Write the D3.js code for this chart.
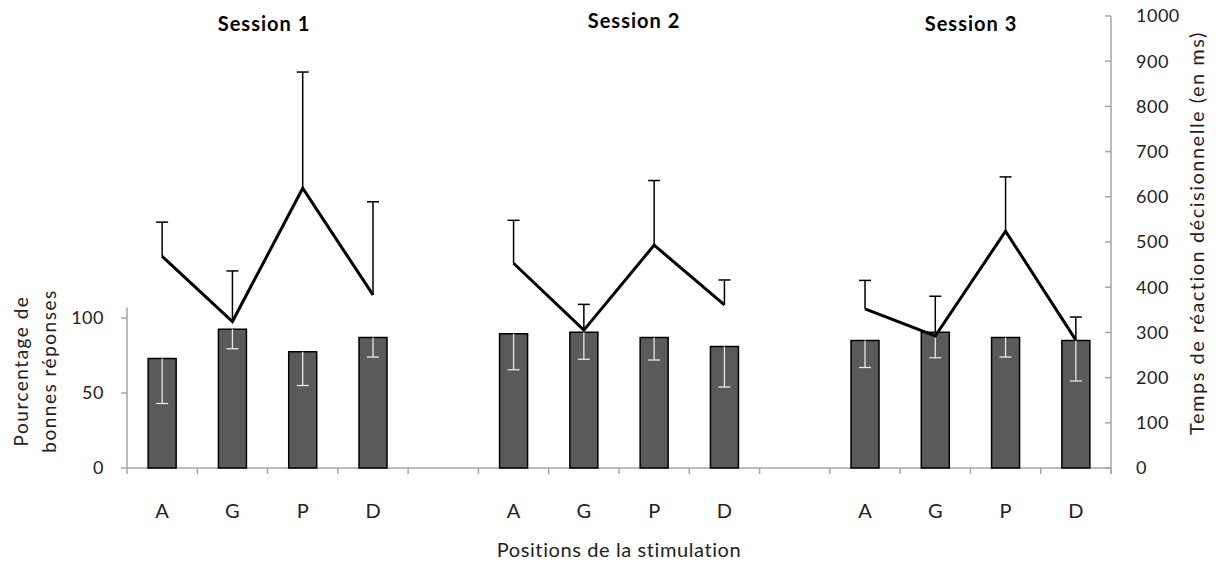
<!DOCTYPE html>
<html>
<head>
<meta charset="utf-8">
<script src="https://cdn.jsdelivr.net/npm/d3@7"></script>
<style>
  body { margin: 0; background: #fff; }
  svg { display: block; font-family: Lato, "Open Sans", sans-serif; }
</style>
</head>
<body>
<svg id="chart"></svg>
<script>
const width = 1216;
const height = 563;

// 14 slots on the x axis: 3 sessions of 4 positions, separated by empty slots
const sessions = ['Session 1', 'Session 2', 'Session 3'];
const positions = ['A', 'G', 'P', 'D'];
const slotIndex = [[0, 1, 2, 3], [5, 6, 7, 8], [10, 11, 12, 13]];

// percentage of correct answers (bars) and their error (downward)
const pctCorrect = [[73, 92.5, 77.5, 87], [89.5, 90.5, 87, 81], [85, 90.5, 87, 85]];
const pctError = [[30, 13, 22.5, 13], [24, 18, 15, 27], [18, 17, 13, 27]];

// decision reaction time in ms (lines) and their error (upward)
const rtMean = [[468, 324, 619, 383], [453, 305, 493, 361], [352, 292, 524, 283]];
const rtError = [[76, 112, 257, 206], [95, 57, 143, 55], [63, 88, 120, 51]];

const leftTicks = [0, 50, 100];
const rightTicks = d3.range(0, 1001, 100);

const svg = d3.select('#chart')
  .attr('width', width)
  .attr('height', height);

const x0 = 127, x1 = 1111, yBase = 468;

const x = d3.scaleBand()
  .domain(d3.range(14))
  .range([x0, x1]);

const yPct = d3.scaleLinear()
  .domain([0, 100])
  .range([yBase, 318]);

const yRt = d3.scaleLinear()
  .domain([0, 1000])
  .range([yBase, 16]);

const axisColor = '#a6a6a6';
const textColor = '#222';

// x axis line + ticks at slot boundaries
svg.append('line')
  .attr('x1', x0).attr('x2', x1)
  .attr('y1', yBase).attr('y2', yBase)
  .attr('stroke', axisColor).attr('stroke-width', 1.5);

svg.selectAll('.xtick')
  .data(d3.range(15))
  .enter()
  .append('line')
    .attr('x1', i => x0 + i * x.step())
    .attr('x2', i => x0 + i * x.step())
    .attr('y1', yBase).attr('y2', yBase + 6)
    .attr('stroke', axisColor).attr('stroke-width', 1.5);

// left axis
svg.append('line')
  .attr('x1', x0).attr('x2', x0)
  .attr('y1', yBase + 1).attr('y2', yPct(107))
  .attr('stroke', axisColor).attr('stroke-width', 1.5);

svg.selectAll('.ltick')
  .data(leftTicks)
  .enter()
  .append('line')
    .attr('x1', x0 - 6).attr('x2', x0)
    .attr('y1', d => yPct(d)).attr('y2', d => yPct(d))
    .attr('stroke', axisColor).attr('stroke-width', 1.5);

svg.selectAll('.llabel')
  .data(leftTicks)
  .enter()
  .append('text')
    .attr('x', 104)
    .attr('y', d => yPct(d))
    .attr('dy', '0.35em')
    .attr('text-anchor', 'end')
    .attr('font-size', 18)
    .attr('letter-spacing', 0.5)
    .attr('fill', textColor)
    .text(d => d);

// right axis
svg.append('line')
  .attr('x1', x1).attr('x2', x1)
  .attr('y1', yBase + 6).attr('y2', yRt(1000))
  .attr('stroke', axisColor).attr('stroke-width', 1.5);

svg.selectAll('.rtick')
  .data(rightTicks)
  .enter()
  .append('line')
    .attr('x1', x1 - 6).attr('x2', x1)
    .attr('y1', d => yRt(d)).attr('y2', d => yRt(d))
    .attr('stroke', axisColor).attr('stroke-width', 1.5);

svg.selectAll('.rlabel')
  .data(rightTicks)
  .enter()
  .append('text')
    .attr('x', 1136)
    .attr('y', d => yRt(d))
    .attr('dy', '0.35em')
    .attr('font-size', 18)
    .attr('letter-spacing', 0.5)
    .attr('fill', textColor)
    .text(d => d);

// bars
const barW = 28;
const barData = [];
const lineData = [];
sessions.forEach((s, si) => {
  const pts = [];
  positions.forEach((p, pi) => {
    const slot = slotIndex[si][pi];
    const cx = x(slot) + x.bandwidth() / 2;
    barData.push({cx, pos: p, v: pctCorrect[si][pi], e: pctError[si][pi]});
    pts.push({cx, v: rtMean[si][pi], e: rtError[si][pi]});
  });
  lineData.push(pts);
});

svg.selectAll('.bar')
  .data(barData)
  .enter()
  .append('rect')
    .attr('x', d => d.cx - barW / 2)
    .attr('y', d => yPct(d.v))
    .attr('width', barW)
    .attr('height', d => yBase - yPct(d.v))
    .attr('fill', '#5a5a5a')
    .attr('stroke', '#000')
    .attr('stroke-width', 1.5);

// white error bars on bars
const barErr = svg.selectAll('.barerr')
  .data(barData)
  .enter()
  .append('g')
    .attr('stroke', '#e4e8f0')
    .attr('stroke-width', 1.3);

barErr.append('line')
  .attr('x1', d => d.cx).attr('x2', d => d.cx)
  .attr('y1', d => yPct(d.v)).attr('y2', d => yPct(d.v - d.e));

barErr.append('line')
  .attr('x1', d => d.cx - 6).attr('x2', d => d.cx + 6)
  .attr('y1', d => yPct(d.v - d.e)).attr('y2', d => yPct(d.v - d.e));

// x labels
svg.selectAll('.xlabel')
  .data(barData)
  .enter()
  .append('text')
    .attr('x', d => d.cx)
    .attr('y', 518)
    .attr('text-anchor', 'middle')
    .attr('font-size', 20)
    .attr('fill', textColor)
    .text(d => d.pos);

// reaction time error bars (upward) and lines
lineData.forEach(pts => {
  const g = svg.append('g');
  g.selectAll('.rterr')
    .data(pts)
    .enter()
    .append('line')
      .attr('x1', d => d.cx).attr('x2', d => d.cx)
      .attr('y1', d => yRt(d.v)).attr('y2', d => yRt(d.v + d.e))
      .attr('stroke', '#000').attr('stroke-width', 1.5);
  g.selectAll('.rtcap')
    .data(pts)
    .enter()
    .append('line')
      .attr('x1', d => d.cx - 6).attr('x2', d => d.cx + 6)
      .attr('y1', d => yRt(d.v + d.e)).attr('y2', d => yRt(d.v + d.e))
      .attr('stroke', '#000').attr('stroke-width', 1.5);
  g.append('path')
    .datum(pts)
    .attr('fill', 'none')
    .attr('stroke', '#000')
    .attr('stroke-width', 3)
    .attr('d', d3.line().x(d => d.cx).y(d => yRt(d.v)));
});

// session titles
const titleX = [264, 634, 971];
const titleY = [31, 28, 31];
svg.selectAll('.title')
  .data(sessions)
  .enter()
  .append('text')
    .attr('x', (d, i) => titleX[i])
    .attr('y', (d, i) => titleY[i])
    .attr('text-anchor', 'middle')
    .attr('font-size', 20)
    .attr('font-weight', 'bold')
    .attr('letter-spacing', 1)
    .attr('fill', '#000')
    .text(d => d);

// axis titles
svg.append('text')
  .attr('x', 619)
  .attr('y', 557)
  .attr('text-anchor', 'middle')
  .attr('font-size', 20)
  .attr('letter-spacing', 0.6)
  .attr('fill', textColor)
  .text('Positions de la stimulation');

const leftTitle = svg.append('text')
  .attr('transform', 'translate(28,371) rotate(-90)')
  .attr('text-anchor', 'middle')
  .attr('font-size', 19)
  .attr('letter-spacing', 1.5)
  .attr('fill', textColor);
leftTitle.append('tspan').attr('x', 0).attr('y', 0).text('Pourcentage de');
leftTitle.append('tspan').attr('x', 0).attr('y', 28).text('bonnes réponses');

svg.append('text')
  .attr('transform', 'translate(1204,233) rotate(-90)')
  .attr('text-anchor', 'middle')
  .attr('font-size', 20)
  .attr('letter-spacing', 1.5)
  .attr('fill', textColor)
  .text('Temps de réaction décisionnelle (en ms)');
</script>
</body>
</html>
